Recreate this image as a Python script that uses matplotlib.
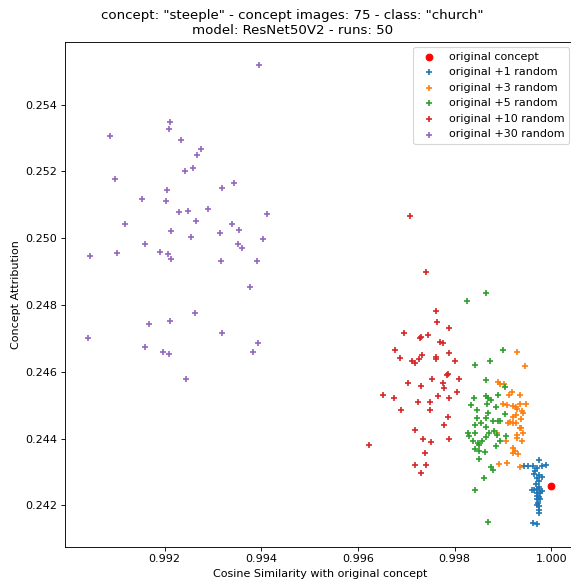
import numpy as np
import matplotlib
matplotlib.use("Agg")
import matplotlib.pyplot as plt

CONCEPT = "steeple"
CLASS_NAME = "church"
MODEL = "ResNet50V2"
N_IMAGES = 75
N_RUNS = 50

ORIGINAL_X = [1.0000]
ORIGINAL_Y = [0.24258]

R1_X = [0.99974, 0.99988, 0.99943, 0.99951, 0.99962, 0.99970, 0.99980, 0.99967,
        0.99965, 0.99975, 0.99980, 0.99970, 0.99975, 0.99969, 0.99974, 0.99960,
        0.99964, 0.99970, 0.99975, 0.99980, 0.99970, 0.99977, 0.99971, 0.99975,
        0.99970, 0.99977, 0.99973, 0.99975, 0.99970, 0.99974, 0.99974, 0.99963,
        0.99971]
R1_Y = [0.24336, 0.24322, 0.24318, 0.24318, 0.24318, 0.24312, 0.24318, 0.24302,
        0.24294, 0.24292, 0.24286, 0.24282, 0.24274, 0.24264, 0.24256, 0.24246,
        0.24246, 0.24248, 0.24248, 0.24244, 0.24238, 0.24238, 0.24228, 0.24226,
        0.24218, 0.24218, 0.24208, 0.24198, 0.24200, 0.24186, 0.24176, 0.24147,
        0.24145]

R3_X = [0.99929, 0.99945, 0.99889, 0.99894, 0.99903, 0.99918, 0.99913, 0.99936,
        0.99900, 0.99909, 0.99921, 0.99926, 0.99928, 0.99935, 0.99947, 0.99940,
        0.99942, 0.99921, 0.99927, 0.99910, 0.99915, 0.99920, 0.99926, 0.99938,
        0.99936, 0.99938, 0.99942, 0.99887, 0.99907, 0.99929, 0.99930, 0.99940,
        0.99920, 0.99925, 0.99931, 0.99921, 0.99892, 0.99908, 0.99936]
R3_Y = [0.24660, 0.24617, 0.24571, 0.24565, 0.24563, 0.24541, 0.24532, 0.24532,
        0.24504, 0.24501, 0.24499, 0.24494, 0.24488, 0.24504, 0.24504, 0.24484,
        0.24478, 0.24466, 0.24472, 0.24447, 0.24449, 0.24446, 0.24446, 0.24459,
        0.24432, 0.24432, 0.24416, 0.24416, 0.24394, 0.24411, 0.24401, 0.24394,
        0.24371, 0.24364, 0.24354, 0.24358, 0.24324, 0.24327, 0.24316]

R5_X = [0.99865, 0.99825, 0.99900, 0.99842, 0.99873, 0.99864, 0.99904, 0.99889,
        0.99840, 0.99865, 0.99868, 0.99875, 0.99834, 0.99847, 0.99866, 0.99885,
        0.99865, 0.99869, 0.99846, 0.99880, 0.99889, 0.99894, 0.99854, 0.99843,
        0.99864, 0.99882, 0.99905, 0.99828, 0.99830, 0.99843, 0.99871, 0.99906,
        0.99887, 0.99837, 0.99848, 0.99851, 0.99864, 0.99856, 0.99894, 0.99886,
        0.99842, 0.99851, 0.99862, 0.99851, 0.99876, 0.99879, 0.99861, 0.99843,
        0.99869]
R5_Y = [0.24835, 0.24812, 0.24664, 0.24621, 0.24633, 0.24576, 0.24555, 0.24531,
        0.24521, 0.24527, 0.24522, 0.24517, 0.24500, 0.24487, 0.24504, 0.24496,
        0.24462, 0.24476, 0.24462, 0.24454, 0.24454, 0.24454, 0.24446, 0.24440,
        0.24436, 0.24422, 0.24473, 0.24416, 0.24408, 0.24418, 0.24416, 0.24408,
        0.24412, 0.24392, 0.24386, 0.24382, 0.24404, 0.24394, 0.24394, 0.24377,
        0.24369, 0.24362, 0.24361, 0.24339, 0.24316, 0.24306, 0.24281, 0.24247,
        0.24151]

R10_X = [0.99708, 0.99741, 0.99762, 0.99763, 0.99789, 0.99696, 0.99728, 0.99730,
         0.99744, 0.99676, 0.99770, 0.99775, 0.99789, 0.99688, 0.99712, 0.99717,
         0.99727, 0.99732, 0.99762, 0.99761, 0.99801, 0.99784, 0.99786, 0.99754,
         0.99703, 0.99731, 0.99776, 0.99808, 0.99779, 0.99804, 0.99652, 0.99674,
         0.99765, 0.99789, 0.99725, 0.99750, 0.99689, 0.99748, 0.99787, 0.99779,
         0.99719, 0.99735, 0.99751, 0.99789, 0.99738, 0.99719, 0.99740, 0.99730,
         0.99622]
R10_Y = [0.25068, 0.24898, 0.24782, 0.24750, 0.24731, 0.24717, 0.24702, 0.24704,
         0.24711, 0.24666, 0.24688, 0.24685, 0.24657, 0.24640, 0.24631, 0.24627,
         0.24639, 0.24649, 0.24643, 0.24639, 0.24631, 0.24591, 0.24593, 0.24580,
         0.24568, 0.24558, 0.24568, 0.24579, 0.24552, 0.24539, 0.24532, 0.24521,
         0.24529, 0.24521, 0.24509, 0.24509, 0.24487, 0.24485, 0.24464, 0.24440,
         0.24427, 0.24399, 0.24389, 0.24399, 0.24358, 0.24321, 0.24322, 0.24298,
         0.24380]

R30_X = [0.99396, 0.99211, 0.99209, 0.99088, 0.99235, 0.99276, 0.99268, 0.99243,
         0.99258, 0.99097, 0.99206, 0.99319, 0.99343, 0.99153, 0.99202, 0.99230,
         0.99248, 0.99290, 0.99411, 0.99119, 0.99266, 0.99340, 0.99214, 0.99354,
         0.99314, 0.99254, 0.99403, 0.99159, 0.99352, 0.99361, 0.99046, 0.99101,
         0.99190, 0.99208, 0.99213, 0.99316, 0.99392, 0.99376, 0.99262, 0.99167,
         0.99212, 0.99042, 0.99319, 0.99159, 0.99394, 0.99196, 0.99210, 0.99382,
         0.99244]
R30_Y = [0.25520, 0.25349, 0.25327, 0.25305, 0.25293, 0.25268, 0.25250, 0.25201,
         0.25209, 0.25178, 0.25145, 0.25152, 0.25167, 0.25119, 0.25113, 0.25079,
         0.25083, 0.25088, 0.25072, 0.25042, 0.25052, 0.25044, 0.25022, 0.25026,
         0.25015, 0.25003, 0.24999, 0.24983, 0.24982, 0.24971, 0.24946, 0.24955,
         0.24960, 0.24953, 0.24937, 0.24933, 0.24932, 0.24855, 0.24776, 0.24743,
         0.24751, 0.24700, 0.24715, 0.24675, 0.24686, 0.24658, 0.24654, 0.24658,
         0.24579]

SERIES = [
    ("original +1 random", R1_X, R1_Y, "tab:blue"),
    ("original +3 random", R3_X, R3_Y, "tab:orange"),
    ("original +5 random", R5_X, R5_Y, "tab:green"),
    ("original +10 random", R10_X, R10_Y, "tab:red"),
    ("original +30 random", R30_X, R30_Y, "tab:purple"),
]

W, H, DPI = 571, 584, 80


def main():
    fig = plt.figure(figsize=(W / DPI, H / DPI), dpi=DPI)
    # right spine sits just past the image edge
    ax = fig.add_axes([65 / W, 37.3 / H, 509.5 / W, 505 / H])

    ax.scatter(ORIGINAL_X, ORIGINAL_Y, color="red", marker="o", label="original concept")
    for label, xs, ys, color in SERIES:
        ax.scatter(xs, ys, color=color, marker="+", label=label)

    ax.set_yticks(np.arange(0.242, 0.2545, 0.002))
    ax.set_xticks(np.arange(0.992, 1.0005, 0.002))
    ax.set_xlabel("Cosine Similarity with original concept")
    ax.set_ylabel("Concept Attribution")
    ax.legend(loc="upper right")

    fig.text(0.5124, 0.984,
             f'concept: "{CONCEPT}" - concept images: {N_IMAGES} - class: "{CLASS_NAME}"\n'
             f"model: {MODEL} - runs: {N_RUNS}",
             ha="center", va="top", fontsize=12)

    fig.savefig("out.png", dpi=DPI)
    plt.close(fig)


if __name__ == "__main__":
    main()
